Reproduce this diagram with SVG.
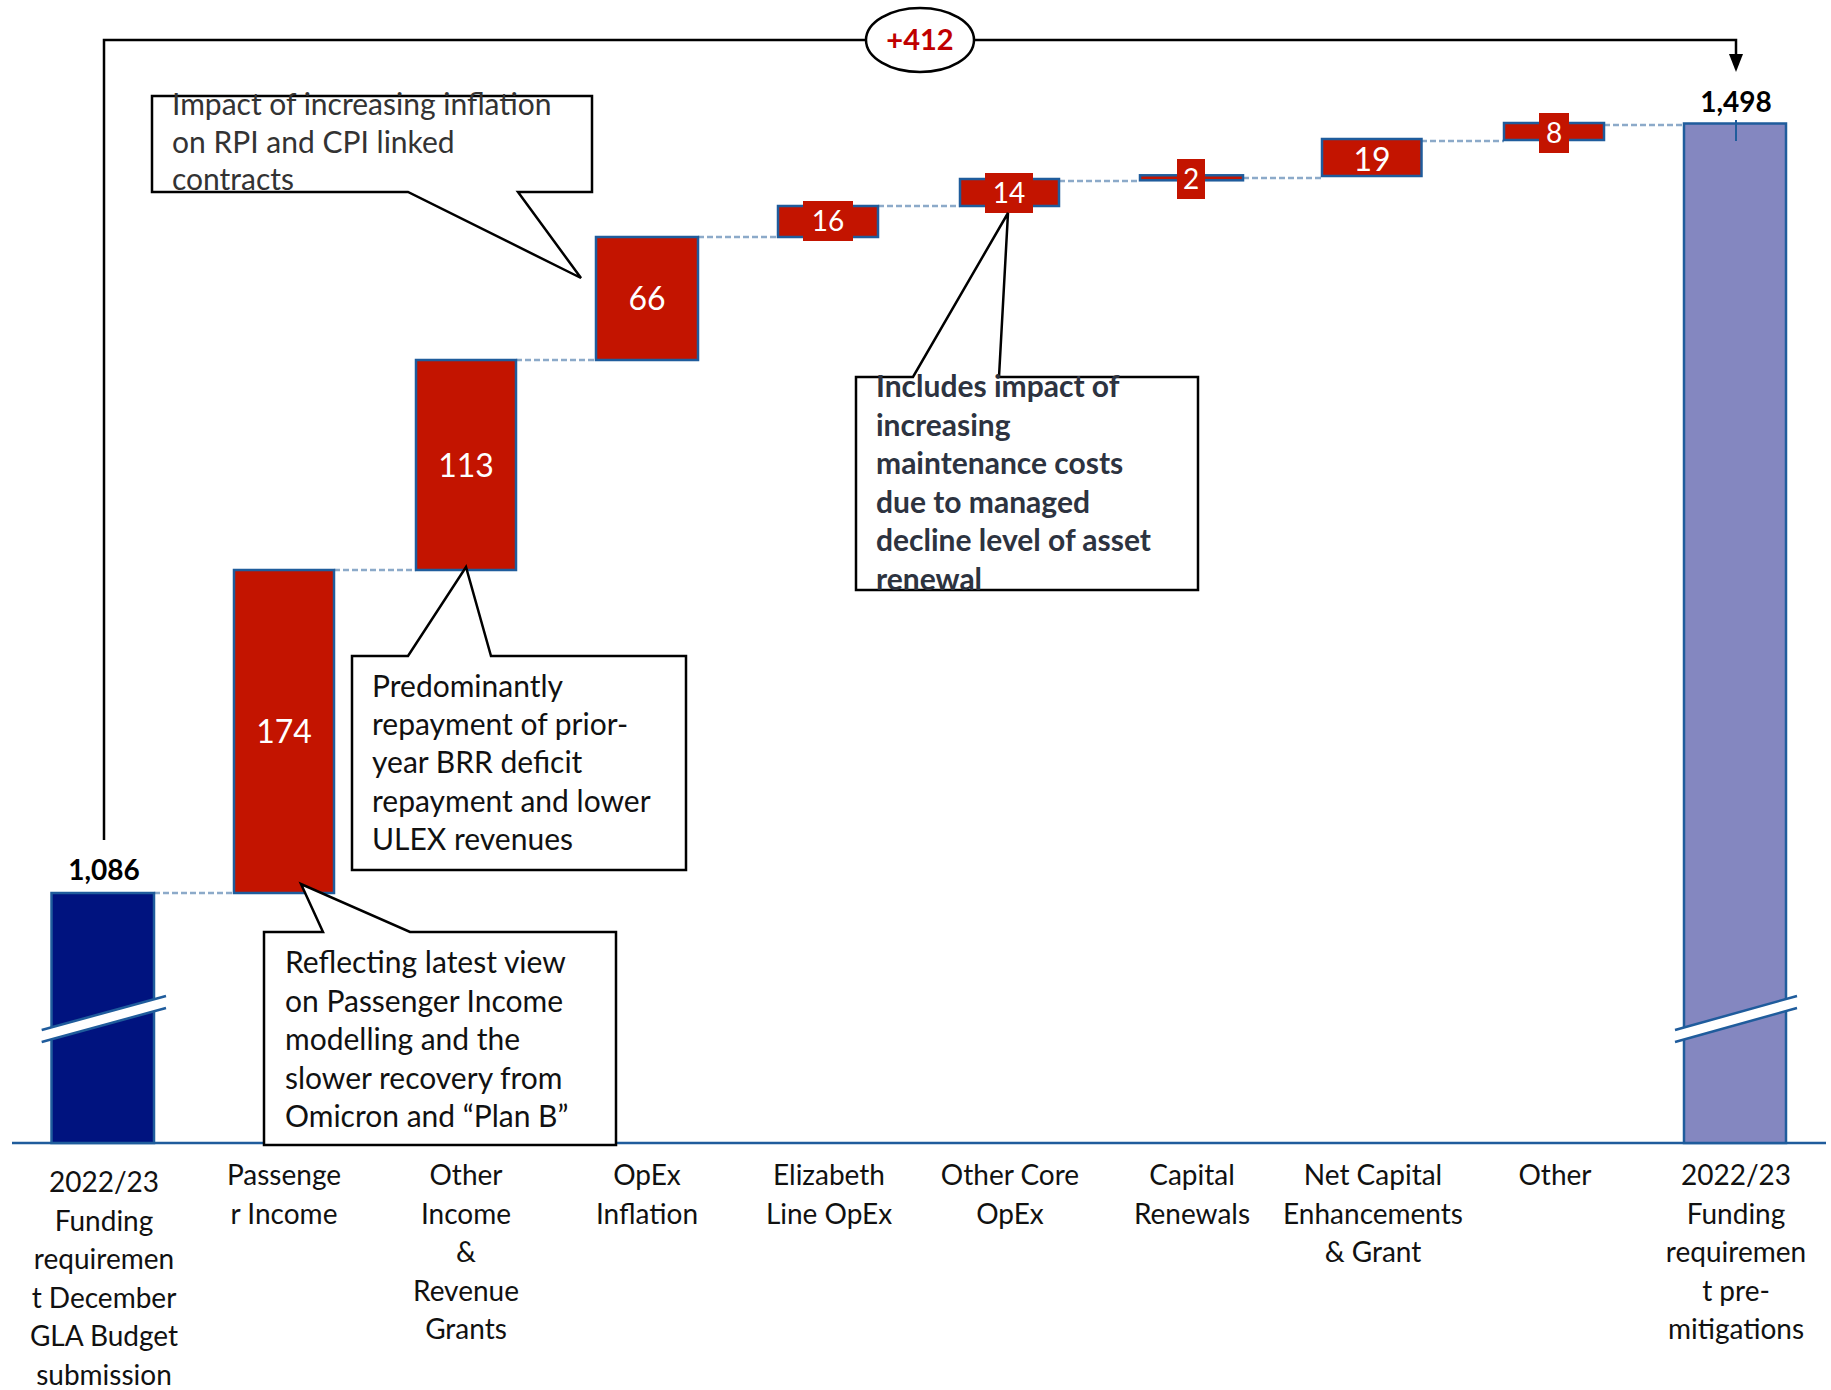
<svg xmlns="http://www.w3.org/2000/svg" width="1831" height="1390" viewBox="0 0 1831 1390">
<defs>
<marker id="arr" markerWidth="20" markerHeight="16" refX="12" refY="7" orient="auto" markerUnits="userSpaceOnUse">
<path d="M0,0 L18,7 L0,14 Z" fill="#000"/>
</marker>
<style>
.bar{stroke:#1f5c9c;stroke-width:2.5}
.red{fill:#c31400}
.navy{fill:#00137f}
.purple{fill:#8487c0}
.lbl{fill:#c31400}
.dash{stroke:#8caac9;stroke-width:2.5;stroke-dasharray:6 3;fill:none}
.brk{stroke:#1f5c9c;stroke-width:2.5}
.val{font-family:Lato,"Liberation Sans",sans-serif;fill:#fff;text-anchor:middle}
.tot{font-family:Lato,"Liberation Sans",sans-serif;font-weight:bold;fill:#000;text-anchor:middle;font-size:28px}
.cat{font-family:Lato,"Liberation Sans",sans-serif;fill:#111;text-anchor:middle;font-size:28px}
.co{fill:#fff;stroke:#000;stroke-width:2.5;stroke-linejoin:miter}
.ct{font-family:Lato,"Liberation Sans",sans-serif;font-size:30px;fill:#111}
</style>
</defs>
<rect width="1831" height="1390" fill="#fff"/>

<g id="connectors">
<line class="dash" x1="154" y1="893" x2="234" y2="893"/>
<line class="dash" x1="334" y1="570" x2="416" y2="570"/>
<line class="dash" x1="516" y1="360" x2="596" y2="360"/>
<line class="dash" x1="698" y1="237" x2="778" y2="237"/>
<line class="dash" x1="878" y1="206" x2="960" y2="206"/>
<line class="dash" x1="1059" y1="181" x2="1140" y2="181"/>
<line class="dash" x1="1243" y1="178" x2="1322" y2="178"/>
<line class="dash" x1="1421" y1="141" x2="1504" y2="141"/>
<line class="dash" x1="1604" y1="125" x2="1684" y2="125"/>
<path d="M104,840 V40 H1736 V66" fill="none" stroke="#000" stroke-width="2.5" marker-end="url(#arr)"/>
</g>

<g id="axis">
<line x1="12" y1="1143" x2="1826" y2="1143" stroke="#1f5c9c" stroke-width="2.5"/>
</g>

<g id="bar-start">
<rect class="bar navy" x="51.5" y="893" width="102.5" height="250"/>
<polygon points="41.7,1030 166,996 166,1008 41.7,1042" fill="#fff"/>
<line class="brk" x1="41.7" y1="1030" x2="166" y2="996"/>
<line class="brk" x1="41.7" y1="1042" x2="166" y2="1008"/>
<text class="tot" x="104" y="880">1,086</text>
</g>

<g id="bar-passenger">
<rect class="bar red" x="234" y="570" width="100" height="323"/>
<text class="val" x="284" y="743" font-size="32">174</text>
</g>

<g id="bar-other-income">
<rect class="bar red" x="416" y="360" width="100" height="210"/>
<text class="val" x="466" y="476.5" font-size="32">113</text>
</g>

<g id="bar-opex-inflation">
<rect class="bar red" x="596" y="237" width="102" height="123"/>
<text class="val" x="647" y="310" font-size="32">66</text>
</g>

<g id="bar-elizabeth">
<rect class="bar red" x="778" y="206" width="100" height="31"/>
<rect class="lbl" x="803" y="201" width="50" height="40"/>
<text class="val" x="828" y="231" font-size="28">16</text>
</g>

<g id="bar-other-core">
<rect class="bar red" x="960" y="179" width="99" height="27"/>
<rect class="lbl" x="985" y="173" width="48" height="40"/>
<text class="val" x="1009" y="203" font-size="28">14</text>
</g>

<g id="bar-capital-renewals">
<rect class="bar red" x="1140" y="175.3" width="103" height="5"/>
<rect class="lbl" x="1177" y="159" width="28" height="40"/>
<text class="val" x="1191" y="189" font-size="28">2</text>
</g>

<g id="bar-net-capital">
<rect class="bar red" x="1322" y="139" width="99.5" height="37"/>
<text class="val" x="1372" y="170.5" font-size="32">19</text>
</g>

<g id="bar-other">
<rect class="bar red" x="1504" y="123" width="100" height="17"/>
<rect class="lbl" x="1539" y="113" width="30" height="40"/>
<text class="val" x="1554" y="143" font-size="28">8</text>
</g>

<g id="bar-end">
<rect class="bar purple" x="1684" y="123.5" width="102" height="1019.5"/>
<line x1="1736" y1="120" x2="1736" y2="141" stroke="#1f5c9c" stroke-width="2"/>
<polygon points="1675,1030 1797,996 1797,1008 1675,1042" fill="#fff"/>
<line class="brk" x1="1675" y1="1030" x2="1797" y2="996"/>
<line class="brk" x1="1675" y1="1042" x2="1797" y2="1008"/>
<text class="tot" x="1736" y="112">1,498</text>
</g>

<g id="total-change">
<ellipse cx="920" cy="40" rx="54" ry="32" fill="#fff" stroke="#000" stroke-width="2.5"/>
<text x="920" y="50" text-anchor="middle" font-family="Lato, 'Liberation Sans', sans-serif" font-weight="bold" font-size="29" fill="#c00000">+412</text>
</g>

<g id="callout-inflation">
<path class="co" d="M152,96 H592 V192 H518 L581,278 L408,192 H152 Z" stroke="#333"/>
<text class="ct" style="fill:#333">
<tspan x="172" y="115">Impact of increasing inflation</tspan>
<tspan x="172" y="153">on RPI and CPI linked</tspan>
<tspan x="172" y="190">contracts</tspan>
</text>
</g>

<g id="callout-other-income">
<path class="co" d="M352,656 H408 L466,567 L491,656 H686 V870 H352 Z"/>
<text class="ct">
<tspan x="372" y="697">Predominantly</tspan>
<tspan x="372" y="735">repayment of prior-</tspan>
<tspan x="372" y="773">year BRR deficit</tspan>
<tspan x="372" y="812">repayment and lower</tspan>
<tspan x="372" y="850">ULEX revenues</tspan>
</text>
</g>

<g id="callout-core-opex">
<path class="co" d="M856,377 H913 L1008,213 L999,377 H1198 V590 H856 Z" stroke="#333"/>
<text class="ct" font-weight="bold" style="fill:#2d3340">
<tspan x="876" y="397">Includes impact of</tspan>
<tspan x="876" y="435.5">increasing</tspan>
<tspan x="876" y="474">maintenance costs</tspan>
<tspan x="876" y="512.5">due to managed</tspan>
<tspan x="876" y="551">decline level of asset</tspan>
<tspan x="876" y="589.5">renewal</tspan>
</text>
</g>

<g id="callout-passenger">
<path class="co" d="M264,932 H323 L301,884 L410,932 H616 V1145 H264 Z"/>
<text class="ct">
<tspan x="285" y="973">Reflecting latest view</tspan>
<tspan x="285" y="1011.5">on Passenger Income</tspan>
<tspan x="285" y="1050">modelling and the</tspan>
<tspan x="285" y="1088.5">slower recovery from</tspan>
<tspan x="285" y="1127">Omicron and “Plan B”</tspan>
</text>
</g>

<g id="categories">
<text class="cat"><tspan x="104" y="1192">2022/23</tspan><tspan x="104" y="1230.5">Funding</tspan><tspan x="104" y="1269">requiremen</tspan><tspan x="104" y="1307.5">t December</tspan><tspan x="104" y="1346">GLA Budget</tspan><tspan x="104" y="1384.5">submission</tspan></text>
<text class="cat"><tspan x="284" y="1185">Passenge</tspan><tspan x="284" y="1223.5">r Income</tspan></text>
<text class="cat"><tspan x="466" y="1185">Other</tspan><tspan x="466" y="1223.5">Income</tspan><tspan x="466" y="1262">&amp;</tspan><tspan x="466" y="1300.5">Revenue</tspan><tspan x="466" y="1339">Grants</tspan></text>
<text class="cat"><tspan x="647" y="1185">OpEx</tspan><tspan x="647" y="1223.5">Inflation</tspan></text>
<text class="cat"><tspan x="829" y="1185">Elizabeth</tspan><tspan x="829" y="1223.5">Line OpEx</tspan></text>
<text class="cat"><tspan x="1010" y="1185">Other Core</tspan><tspan x="1010" y="1223.5">OpEx</tspan></text>
<text class="cat"><tspan x="1192" y="1185">Capital</tspan><tspan x="1192" y="1223.5">Renewals</tspan></text>
<text class="cat"><tspan x="1373" y="1185">Net Capital</tspan><tspan x="1373" y="1223.5">Enhancements</tspan><tspan x="1373" y="1262">&amp; Grant</tspan></text>
<text class="cat"><tspan x="1555" y="1185">Other</tspan></text>
<text class="cat"><tspan x="1736" y="1185">2022/23</tspan><tspan x="1736" y="1223.5">Funding</tspan><tspan x="1736" y="1262">requiremen</tspan><tspan x="1736" y="1300.5">t pre-</tspan><tspan x="1736" y="1339">mitigations</tspan></text>
</g>
</svg>
